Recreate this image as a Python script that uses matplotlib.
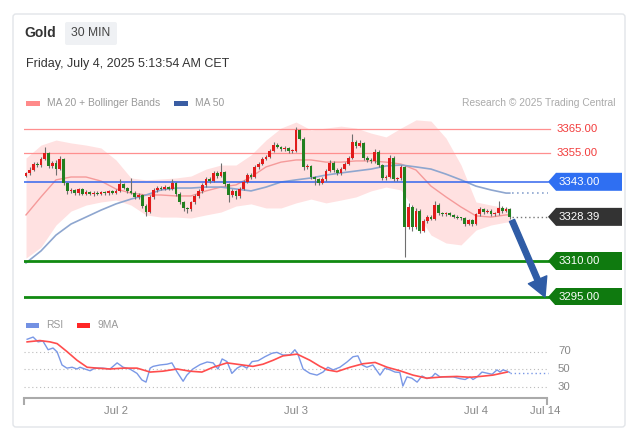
import matplotlib
matplotlib.use("Agg")
import matplotlib.pyplot as plt
from matplotlib.patches import Polygon, FancyBboxPatch, Rectangle
import numpy as np

plt.rcParams["font.family"] = ["Liberation Sans", "DejaVu Sans"]

# -----------------------------------------------------------------------------
# Data (30-minute candles, Jul 1 12:00 -> Jul 4 04:30)
# -----------------------------------------------------------------------------

first_open = 3345.5
closes = [
    3346.5, 3348.0, 3350.5, 3349.8, 3352.5, 3354.8, 3349.5, 3351.0, 3348.5, 3352.5,
    3342.5, 3339.0, 3339.5, 3338.2, 3339.8, 3338.0, 3338.8, 3337.8, 3338.5, 3338.0,
    3338.6, 3338.2, 3339.0, 3338.4, 3339.2, 3342.0, 3340.5, 3339.0, 3338.5, 3336.5,
    3337.5, 3333.0, 3330.5, 3336.5, 3339.5, 3340.5, 3340.0, 3340.8, 3340.2, 3342.5,
    3338.0, 3334.5, 3332.0, 3331.5, 3334.5, 3337.0, 3339.0, 3341.5, 3344.0, 3343.5,
    3346.5, 3345.5, 3347.0, 3342.0, 3337.5, 3339.0, 3337.0, 3340.0, 3343.0, 3346.0,
    3345.0, 3349.0, 3350.5, 3352.5, 3353.5, 3356.0, 3358.5, 3357.5, 3356.5, 3357.0,
    3355.8, 3356.0, 3364.5, 3361.0, 3349.0, 3349.5, 3345.0, 3344.0, 3342.5, 3344.0,
    3347.5, 3351.0, 3348.0, 3346.5, 3348.5, 3350.5, 3353.0, 3359.5, 3358.0, 3359.0,
    3353.0, 3352.0, 3351.5, 3355.5, 3350.0, 3344.5, 3345.0, 3353.0, 3344.0, 3344.5,
    3349.0, 3324.0, 3332.5, 3324.0, 3331.0, 3322.5, 3326.5, 3328.5, 3327.5, 3333.5,
    3330.0, 3329.5, 3330.0, 3329.2, 3328.5, 3328.0, 3327.8, 3325.5, 3327.0, 3325.5,
    3329.5, 3331.5, 3330.5, 3331.0, 3329.5, 3329.8, 3332.0, 3331.0, 3331.5, 3328.39,
]
wick_up = [
    0.6, 1.0, 0.8, 0.6, 0.8, 2.5, 0.6, 0.8, 1.0, 1.2,
    0.6, 0.6, 0.8, 0.5, 0.6, 0.5, 0.6, 0.5, 0.6, 0.5,
    0.6, 0.5, 0.6, 0.5, 0.8, 2.0, 0.6, 0.5, 5.5, 0.6,
    0.8, 0.6, 0.6, 0.8, 0.8, 0.6, 0.6, 0.8, 0.6, 1.5,
    0.6, 0.6, 0.6, 0.6, 0.6, 0.8, 0.8, 0.8, 0.8, 1.0,
    1.0, 0.8, 4.0, 0.6, 0.6, 0.8, 0.6, 0.8, 0.8, 0.8,
    0.8, 0.8, 0.8, 0.8, 0.8, 0.8, 1.0, 0.6, 0.6, 0.8,
    0.6, 0.8, 1.5, 0.6, 0.6, 0.8, 0.6, 0.6, 0.6, 0.8,
    0.8, 1.2, 0.6, 0.6, 0.8, 0.8, 0.8, 3.5, 1.0, 1.5,
    0.6, 0.6, 0.8, 1.0, 0.6, 0.6, 0.8, 1.2, 0.6, 0.6,
    1.0, 0.6, 1.5, 0.8, 1.0, 0.6, 1.0, 0.6, 0.8, 1.5,
    0.6, 0.6, 0.6, 0.5, 0.5, 0.5, 0.5, 0.5, 0.6, 0.5,
    0.6, 0.8, 0.6, 0.8, 0.6, 0.8, 3.0, 0.8, 1.0, 0.6,
]
wick_dn = [
    0.6, 0.6, 0.6, 0.8, 0.6, 0.6, 0.8, 0.6, 2.5, 0.6,
    0.8, 1.0, 0.6, 0.5, 0.5, 0.6, 0.5, 0.5, 0.6, 0.5,
    0.6, 0.5, 0.6, 0.5, 0.6, 0.6, 0.6, 0.6, 0.6, 0.8,
    0.6, 0.8, 1.8, 0.6, 0.6, 0.6, 0.5, 0.6, 0.6, 0.6,
    0.8, 0.8, 1.0, 1.5, 0.8, 0.6, 0.6, 0.6, 0.6, 0.8,
    0.6, 0.8, 0.6, 0.8, 3.0, 0.8, 1.0, 0.6, 0.6, 0.6,
    0.8, 0.6, 0.6, 0.6, 0.6, 0.6, 0.6, 0.6, 0.8, 0.6,
    0.8, 0.6, 0.6, 0.6, 1.0, 0.8, 0.8, 2.5, 0.8, 0.6,
    0.6, 0.6, 0.8, 0.8, 0.6, 0.6, 0.6, 0.6, 0.8, 0.6,
    0.8, 0.6, 0.8, 0.6, 0.8, 0.8, 0.6, 0.6, 0.8, 0.6,
    0.6, 12.3, 0.6, 1.5, 0.6, 1.0, 0.6, 0.8, 0.6, 0.6,
    0.8, 0.6, 0.6, 0.5, 0.6, 0.5, 0.6, 1.0, 0.6, 0.8,
    0.6, 0.6, 0.8, 0.6, 0.8, 0.6, 0.6, 0.8, 0.6, 0.8,
]

# indicator samples every 4 candles
band_idx = [0, 4, 8, 12, 16, 20, 24, 28, 32, 36, 40, 44, 48, 52, 56, 60, 64,
            68, 72, 76, 80, 84, 88, 92, 96, 100, 104, 108, 112, 116, 120, 124, 128, 129]
bb_upper = [3352.9, 3358.3, 3360.4, 3359.2, 3358.3, 3357.1, 3352.1, 3344.6, 3343.8,
            3344.2, 3344.6, 3345.4, 3348.3, 3350.0, 3350.0, 3354.2, 3360.4, 3365.4,
            3367.9, 3364.6, 3365.4, 3366.2, 3365.4, 3363.3, 3361.7, 3365.4, 3368.8,
            3368.3, 3361.2, 3350.0, 3334.6, 3333.3, 3332.1, 3332.1]
bb_lower = [3311.2, 3315.8, 3325.0, 3330.8, 3333.3, 3334.6, 3335.4, 3333.3, 3329.2,
            3328.3, 3328.3, 3327.9, 3329.2, 3330.4, 3332.9, 3333.8, 3332.1, 3332.1,
            3334.2, 3335.8, 3334.2, 3335.4, 3336.7, 3339.2, 3340.8, 3339.6, 3330.4,
            3320.8, 3317.5, 3316.7, 3322.9, 3325.0, 3326.2, 3326.2]
ma20 = [3329.2, 3336.7, 3343.8, 3345.0, 3345.0, 3343.3, 3340.0, 3338.3, 3337.5,
        3337.5, 3337.1, 3337.1, 3339.2, 3340.8, 3341.7, 3345.0, 3349.2, 3351.2,
        3352.1, 3352.1, 3351.2, 3351.2, 3351.7, 3351.7, 3351.2, 3350.4, 3347.9,
        3341.2, 3336.7, 3332.5, 3328.8, 3328.3, 3329.2, 3329.2]
ma50 = [3309.2, 3314.2, 3320.8, 3325.4, 3328.3, 3331.2, 3333.8, 3335.8, 3337.5,
        3339.6, 3340.4, 3340.4, 3340.8, 3340.8, 3340.0, 3339.2, 3340.8, 3342.9,
        3343.8, 3344.6, 3345.8, 3346.7, 3347.5, 3348.3, 3349.6, 3350.0, 3349.2,
        3348.3, 3346.2, 3343.8, 3341.2, 3339.6, 3338.3, 3338.3]

rsi_idx = [0.3, 1.9, 3.2, 4.5, 5.9, 7.2, 8.3, 9.6, 10.9, 12.3, 13.6, 14.4, 15.7, 17.1,
           18.4, 20.5, 22.4, 24.3, 25.9, 27.7, 29.6, 30.9, 32, 33.1, 33.9, 35.7, 37.6,
           38.9, 40.3, 41.9, 42.9, 44.5, 46.4, 48.3, 49.9, 51.2, 52.3, 53.6, 54.9, 56.3,
           57.6, 58.9, 60.3, 61.9, 63.7, 65.6, 66.9, 68.5, 70.4, 71.7, 72.5, 73.9, 75.7,
           77.6, 79.2, 80.5, 81.9, 83.7, 85.6, 87.2, 88.5, 89.6, 90.9, 92.5, 94.4, 95.7,
           97.1, 98.4, 99.7, 100.5, 101.6, 102.9, 104.3, 105.6, 106.9, 108.3, 109.1,
           110.4, 112.3, 113.9, 115.7, 117.1, 118.4, 119.2, 120.3, 121.6, 123.2, 124.3,
           125.6, 126.4, 127.2, 128.3, 129]
rsi_val = [84, 86.5, 81, 82, 72, 74, 69.5, 54.6, 51, 52, 50, 52, 50, 48,
           51, 51, 50, 57, 52, 50, 45, 37.5, 35, 51, 53, 54.6, 55.5,
           57, 46.5, 36, 43, 50, 55, 58, 57, 50, 61.5, 58.5, 45, 51,
           54, 51, 58.5, 59.5, 64, 68, 69, 66, 66, 72, 67, 50, 45,
           43, 46.5, 52, 49, 52, 58, 64, 65, 54.6, 52, 54.6, 43, 51,
           49, 46.5, 46, 30.5, 41, 39.5, 35, 42, 39, 41, 45,
           41, 41, 41, 39, 38, 41, 38, 41, 46.5, 45, 44,
           49, 46.5, 49, 47.5, 46]
ma9_idx = [0.3, 3.7, 6.4, 8.3, 10.9, 13.6, 16.3, 18.9, 22.4, 25.9, 29.6, 33.1, 36.5,
           40.3, 43.7, 46.9, 49.9, 53.6, 57.1, 60.5, 63.2, 65.9, 68.5, 72.3, 75.7,
           78.4, 80.3, 82.9, 86.4, 89.9, 93.1, 96.3, 99.7, 103.2, 106.9, 111.2,
           114.9, 118.4, 121.1, 124.5, 128.3]
ma9_val = [81, 82.5, 81, 79, 70, 60, 52, 51, 50, 51, 51, 46.5, 47.5,
           50, 47.5, 46.5, 52, 57, 55, 53, 55.5, 60, 65, 67, 60,
           53, 49, 47, 52, 56, 57.5, 52, 48, 43, 39.5, 41,
           41.5, 40.5, 41.5, 43, 46.5]

resistances = [3365.0, 3355.0]
pivot = 3343.0
supports = [3310.0, 3295.0]
last_price = 3328.39

tick_idx = [24, 72, 120, 138.5]
tick_labels = ["Jul 2", "Jul 3", "Jul 4", "Jul 14"]
rsi_levels = [70, 50, 30]

# -----------------------------------------------------------------------------
# Layout helpers (pixel geometry of the reference)
# -----------------------------------------------------------------------------

W, H = 643, 445
PX0, PXS = 26.0, 3.75          # pixel of candle 0, pixels per candle
Y_REF, P_REF, PPU = 153.0, 3355.0, 2.4


def px2i(px):
    return (px - PX0) / PXS


def y2p(y):
    return P_REF - (y - Y_REF) / PPU


def y2rsi(y):
    return 50 + (369.0 - y) / 0.875


fig = plt.figure(figsize=(W / 100, H / 100), dpi=100)
fig.patch.set_facecolor("white")

bg = fig.add_axes([0, 0, 1, 1])
bg.set_xlim(0, W)
bg.set_ylim(H, 0)
bg.axis("off")
bg.add_patch(FancyBboxPatch((13, 14), 612, 413, boxstyle="round,pad=0,rounding_size=3",
                            fc="white", ec="#e2e5e9", lw=1))
bg.add_patch(FancyBboxPatch((65, 22), 52, 23, boxstyle="round,pad=0,rounding_size=2",
                            fc="#eff1f4", ec="none"))
bg.text(24, 33, "Gold", fontsize=10, fontweight="bold", color="#333333", va="center")
bg.text(91, 33.5, "30 MIN", fontsize=8.7, color="#444444", ha="center", va="center")
bg.text(26, 64, "Friday, July 4, 2025 5:13:54 AM CET", fontsize=9, color="#333333",
        va="center")
bg.add_patch(Rectangle((26, 101), 14, 5, fc="#ff8a8a", ec="none"))
bg.text(47, 103.5, "MA 20 + Bollinger Bands", fontsize=7.4, color="#999999", va="center")
bg.add_patch(Rectangle((174, 101), 14, 5, fc="#3a5da3", ec="none"))
bg.text(195, 103.5, "MA 50", fontsize=7.4, color="#999999", va="center")
bg.text(615, 103.5, "Research \u00a9 2025 Trading Central", fontsize=7.4, color="#aaaaaa",
        ha="right", va="center")
bg.add_patch(Rectangle((26, 323), 13, 5, fc="#7391e3", ec="none"))
bg.text(46, 325.5, "RSI", fontsize=7.4, color="#999999", va="center")
bg.add_patch(Rectangle((77, 323), 13, 5, fc="#ff2626", ec="none"))
bg.text(97, 325.5, "9MA", fontsize=7.4, color="#999999", va="center")

xlim = (px2i(24), px2i(628))
x_end = px2i(548)

# -----------------------------------------------------------------------------
# Price panel
# -----------------------------------------------------------------------------

ax = fig.add_axes([24 / W, 1 - 305 / H, 604 / W, 187 / H])
ax.set_xlim(*xlim)
ax.set_ylim(y2p(305), y2p(118))
ax.axis("off")
ax.patch.set_visible(False)

ax.fill_between(band_idx, bb_lower, bb_upper, color="#ffdcdc", alpha=0.85, lw=0, zorder=1)
ax.plot(band_idx, ma20, color="#f59a9a", lw=1.0, zorder=2)
ax.plot(band_idx, ma50, color="#8ea6cf", lw=1.2, zorder=2)
ax.plot([band_idx[-1] + 0.5, x_end], [ma50[-1], ma50[-1]], color="#8ea6cf", lw=1.2,
        ls=(0, (1, 2)), zorder=2)

for lvl in resistances:
    ax.plot([-0.5, px2i(550)], [lvl, lvl], color="#ff8f8f", lw=0.9, zorder=3)
    ax.text(px2i(557), lvl, f"{lvl:.2f}", fontsize=8.2, color="#f23c3c", va="center")
ax.plot([-0.5, x_end], [pivot, pivot], color="#3366ee", lw=1.1, zorder=3)
for lvl in supports:
    ax.plot([-0.5, x_end], [lvl, lvl], color="#118a11", lw=2.0, zorder=3)

idx = np.arange(len(closes))
opens = np.array([first_open] + closes[:-1])
cl = np.array(closes)
highs = np.maximum(opens, cl) + np.array(wick_up)
lows = np.minimum(opens, cl) - np.array(wick_dn)
up = cl >= opens
body = np.where(np.abs(cl - opens) < 0.3, 0.3, cl - opens)
ax.vlines(idx, lows, highs, color="#6f6f6f", lw=0.8, zorder=4)
ax.bar(idx, body, bottom=opens, width=0.72,
       color=np.where(up, "#e11b1b", "#21801f"), lw=0, zorder=5)

ax.plot([len(closes) - 0.3, x_end], [last_price, last_price], color="#777777", lw=1.0,
        ls=(0, (1, 2)), zorder=3)


def tag(price, text, color):
    h = 9 / PPU
    pts = [(px2i(548), price), (px2i(556), price + h), (px2i(622), price + h),
           (px2i(622), price - h), (px2i(556), price - h)]
    ax.add_patch(Polygon(pts, closed=True, fc=color, ec="none", zorder=6))
    ax.text(px2i(559), price, text, fontsize=8.2, color="white", va="center", zorder=7)


tag(pivot, f"{pivot:.2f}", "#2f6ff2")
tag(last_price, f"{last_price:.2f}", "#333333")
for lvl in supports:
    tag(lvl, f"{lvl:.2f}", "#0f7a0f")

ax.annotate("", xy=(px2i(545), supports[-1]), xytext=(px2i(512), last_price - 1.5),
            arrowprops=dict(arrowstyle="simple,head_length=0.75,head_width=0.8,tail_width=0.22",
                            color="#2f5ca6", shrinkA=0, shrinkB=0, mutation_scale=18),
            zorder=8)

# -----------------------------------------------------------------------------
# RSI panel
# -----------------------------------------------------------------------------

axr = fig.add_axes([24 / W, 1 - 398 / H, 604 / W, 68 / H])
axr.set_xlim(*xlim)
axr.set_ylim(y2rsi(398), y2rsi(330))
axr.patch.set_visible(False)
for s in ["top", "right", "left"]:
    axr.spines[s].set_visible(False)
axr.spines["bottom"].set_bounds(-0.5, px2i(547))
axr.spines["bottom"].set_color("#aaaaaa")
axr.spines["bottom"].set_linewidth(1.5)
axr.set_yticks([])
axr.set_xticks(tick_idx)
axr.set_xticklabels(tick_labels)
axr.set_xticks([-0.5, px2i(547)], minor=True)
axr.tick_params(axis="x", which="major", length=0, pad=6, labelsize=8.2,
                labelcolor="#888888")
axr.tick_params(axis="x", which="minor", length=5, width=1.5, color="#aaaaaa")

for lvl in rsi_levels:
    axr.plot([-0.5, x_end], [lvl, lvl], color="#bbbbbb", lw=0.8, ls=(0, (1, 2.5)))
    axr.text(px2i(558), lvl, str(lvl), fontsize=8.2, color="#888888", va="center")
axr.plot(rsi_idx, rsi_val, color="#7a98e6", lw=1.0)
axr.plot(ma9_idx, ma9_val, color="#ff4d4d", lw=1.2)
axr.plot([rsi_idx[-1], x_end], [rsi_val[-1], rsi_val[-1]], color="#7a98e6", lw=1.0,
         ls=(0, (1, 2)))

fig.savefig("out.png", dpi=100, facecolor="white")
